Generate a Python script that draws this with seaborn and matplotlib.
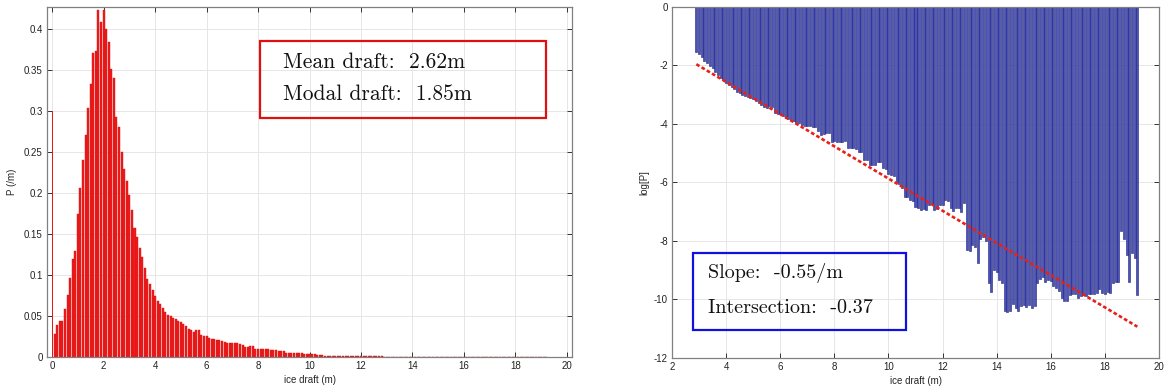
import numpy as np
import pandas as pd
import matplotlib
matplotlib.use("Agg")
import matplotlib.pyplot as plt
import seaborn as sns
from matplotlib.patches import Rectangle

# Ice-draft probability density, 0.1 m bins starting at 0 m (up to 2.8 m)
p_low = [0.300, 0.0285, 0.0387, 0.0436, 0.0436, 0.059, 0.0754, 0.0965, 0.120, 0.1295,
         0.175, 0.2057, 0.241, 0.271, 0.304, 0.333, 0.371, 0.374, 0.4236, 0.409,
         0.4236, 0.400, 0.384, 0.352, 0.340, 0.2925, 0.281, 0.2505, 0.230]

# Natural log of the density for the 0.1 m bins from 2.9 m to 19.2 m
logp_high = [
    -1.54, -1.62, -1.72, -1.85, -1.92, -2.02, -2.10, -2.22, -2.35, -2.42,
    -2.50, -2.60, -2.68, -2.74, -2.82, -2.90, -2.96, -3.00, -3.04, -3.07,
    -3.12, -3.16, -3.22, -3.28, -3.36, -3.42, -3.47, -3.40, -3.42, -3.64,
    -3.68, -3.68, -3.74, -3.80, -3.84, -3.86, -3.90, -3.96, -3.98, -4.05,
    -4.07, -4.06, -4.08, -4.10, -4.12, -4.26, -4.38, -4.36, -4.32, -4.33,
    -4.61, -4.60, -4.62, -4.61, -4.63, -4.60, -4.83, -4.83, -4.82, -4.85,
    -4.95, -4.96, -5.23, -5.25, -5.40, -5.40, -5.42, -5.29, -5.30, -5.52,
    -5.55, -5.70, -5.76, -5.78, -6.00, -6.04, -6.20, -6.49, -6.50, -6.60,
    -6.62, -6.85, -6.88, -6.93, -6.92, -6.95, -6.77, -6.75, -6.93, -6.92,
    -6.77, -6.78, -6.60, -6.62, -6.87, -6.98, -6.87, -6.88, -7.00, -6.70,
    -8.30, -8.36, -8.13, -8.20, -8.75, -7.95, -7.85, -8.00, -9.44, -9.73,
    -9.00, -9.05, -9.33, -9.45, -10.40, -10.42, -10.38, -10.15, -10.28, -10.40,
    -10.22, -10.20, -10.25, -10.20, -10.28, -10.22, -9.45, -9.30, -9.22, -9.40,
    -9.35, -9.38, -9.55, -9.60, -9.70, -9.95, -10.05, -10.05, -9.85, -9.80,
    -9.80, -9.95, -9.88, -9.85, -9.88, -9.80, -9.82, -9.80, -9.78, -9.65,
    -9.78, -9.80, -9.75, -9.78, -9.45, -9.40, -9.42, -7.65, -7.95, -8.47,
    -9.39, -8.40, -8.60, -9.84,
]

bin_width = 0.1
low_start = 0.0
high_start = 2.9

mean_draft = 2.62
modal_draft = 1.85
fit_slope = -0.55
fit_intercept = -0.37

x_ticks = list(range(0, 21, 2))
p_ticks = [0, 0.05, 0.1, 0.15, 0.2, 0.25, 0.3, 0.35, 0.4]
logp_ticks = list(range(-12, 1, 2))

draft_low = np.round(low_start + bin_width * np.arange(len(p_low)), 1)
draft_high = np.round(high_start + bin_width * np.arange(len(logp_high)), 1)
draft = np.concatenate([draft_low, draft_high])
density = np.concatenate([p_low, np.exp(logp_high)])

sns.set_theme(style="white")
plt.rcParams.update({
    "font.family": ["Liberation Sans", "DejaVu Sans"],
    "axes.unicode_minus": False,
    "axes.edgecolor": "#808080",
    "axes.linewidth": 0.9,
    "xtick.color": "#333333",
    "ytick.color": "#333333",
    "xtick.labelcolor": "#222222",
    "ytick.labelcolor": "#222222",
})

W, H = 1164, 389
fig = plt.figure(figsize=(W / 100, H / 100), dpi=100)
ax1 = fig.add_axes([47 / W, 1 - 357 / H, (572 - 47) / W, (357 - 6.7) / H])
ax2 = fig.add_axes([672 / W, 1 - 358 / H, (1159 - 672) / W, (358 - 6.7) / H])


def style_axes(ax):
    ax.grid(True, color="#e6e6e6", linewidth=0.7)
    ax.set_axisbelow(True)
    ax.tick_params(direction="in", length=3.5, width=0.7, top=True, right=True,
                   bottom=True, left=True, labelsize=7, pad=3)
    for s in ax.spines.values():
        s.set_visible(True)
        s.set_color("#808080")


# ---- left: probability density histogram ----
df_left = pd.DataFrame({"draft": draft[1:], "density": density[1:]})
sns.barplot(data=df_left, x="draft", y="density", native_scale=True, width=0.78,
            color="#f21c1c", edgecolor="#d01212", linewidth=0.3, saturation=1,
            errorbar=None, ax=ax1)
ax1.bar(draft[0], density[0], width=0.03, color="#e41818", linewidth=0)
style_axes(ax1)
ax1.set_xlim(-0.2, 20.2)
ax1.set_ylim(0, 0.4276)
ax1.set_xticks(x_ticks)
ax1.set_yticks(p_ticks)
ax1.set_yticklabels([f"{v:g}" for v in p_ticks])
ax1.set_xticklabels([str(v) for v in x_ticks])
ax1.set_xlabel("ice draft (m)", fontsize=7, labelpad=3)
ax1.set_ylabel("P (/m)", fontsize=7, labelpad=5)

ax1.add_patch(Rectangle((8.07, 0.2916), 19.19 - 8.07, 0.3857 - 0.2916,
                        fill=False, edgecolor="#e01010", linewidth=1.6, zorder=5))
ax1.text(8.97, 0.3527, f"Mean draft:  {mean_draft:.2f}m", family="cmr10",
         fontsize=15.5, va="baseline", color="#111111", zorder=6)
ax1.text(8.97, 0.3135, f"Modal draft:  {modal_draft:.2f}m", family="cmr10",
         fontsize=15.5, va="baseline", color="#111111", zorder=6)

# ---- right: log density with linear fit ----
df_right = pd.DataFrame({"draft": draft_high, "logp": logp_high})
sns.barplot(data=df_right, x="draft", y="logp", native_scale=True, width=0.74,
            color="#4b53ba", edgecolor="#1e2278", linewidth=0.4, saturation=1,
            errorbar=None, ax=ax2)
fit_x = np.array([draft_high[0], draft_high[-1]])
sns.lineplot(x=fit_x, y=fit_slope * fit_x + fit_intercept, ax=ax2, color="#e8201a",
             linewidth=1.9, linestyle=(0, (1.4, 0.9)), zorder=4)
style_axes(ax2)
ax2.set_xlim(2, 20)
ax2.set_ylim(-12, 0)
ax2.set_xticks(x_ticks[1:])
ax2.set_xticklabels([str(v) for v in x_ticks[1:]])
ax2.set_yticks(logp_ticks)
ax2.set_yticklabels([str(v) for v in logp_ticks])
ax2.set_xlabel("ice draft (m)", fontsize=7, labelpad=3)
ax2.set_ylabel("log[P]", fontsize=7, labelpad=3)

ax2.add_patch(Rectangle((2.77, -11.03), 10.66 - 2.77, 11.03 - 8.40,
                        fill=False, edgecolor="#1010e0", linewidth=1.6, zorder=5))
ax2.text(3.32, -9.26, f"Slope:  {fit_slope:.2f}/m", family="cmr10",
         fontsize=14.5, va="baseline", color="#111111", zorder=6)
ax2.text(3.32, -10.47, f"Intersection:  {fit_intercept:.2f}", family="cmr10",
         fontsize=14.5, va="baseline", color="#111111", zorder=6)

fig.savefig("out.png", dpi=100, facecolor="white")
